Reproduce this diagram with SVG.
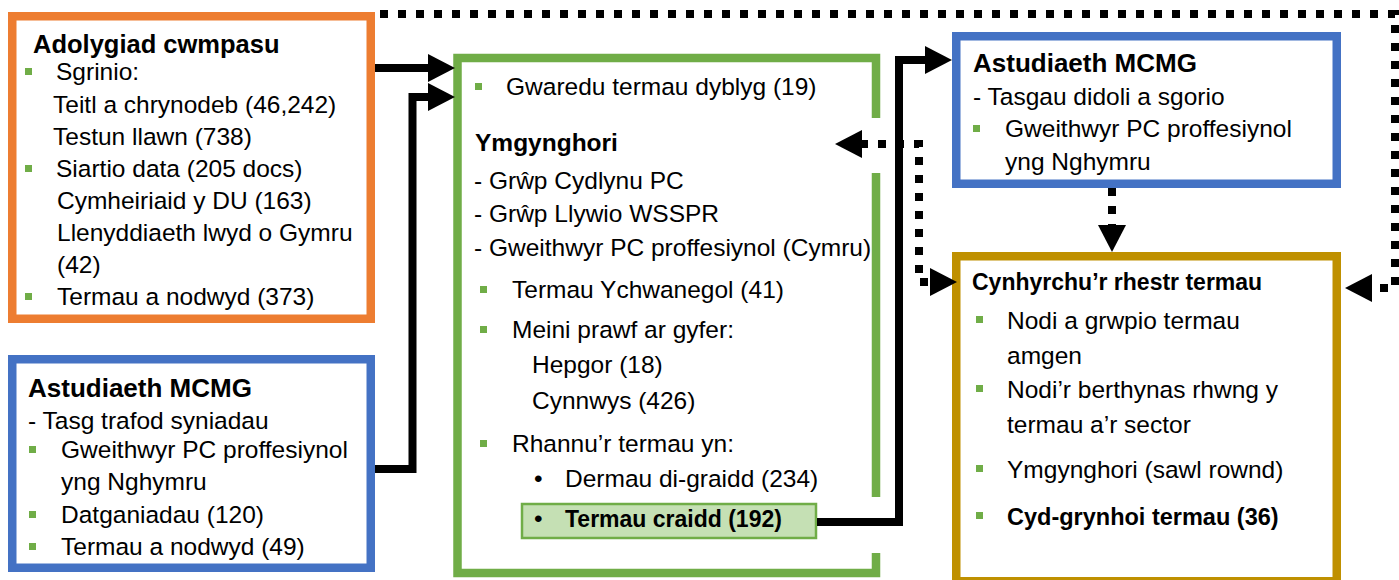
<svg xmlns="http://www.w3.org/2000/svg" width="1399" height="580" viewBox="0 0 1399 580">
<style>
.t{font-family:"Liberation Sans",Arial,sans-serif;font-size:24.5px;fill:#000}
.b{font-weight:bold}
.sq{fill:#70AD47}
.box{fill:#fff;stroke-width:8.5}
.conn{fill:none;stroke:#000;stroke-width:8;stroke-linejoin:miter}
.dot{stroke-dasharray:8 10}
</style>
<defs>
<marker id="ah" markerUnits="userSpaceOnUse" markerWidth="28" markerHeight="30" refX="2" refY="14" orient="auto-start-reverse" viewBox="0 0 28 30">
<path d="M0,0 L27,14 L0,28 Z" fill="#000"/>
</marker>
</defs>
<rect width="1399" height="580" fill="#fff"/>

<g id="node-adolygiad">
<rect class="box" x="12.25" y="16.25" width="358.5" height="302.5" stroke="#ED7D31"/>
<text class="t b" x="33" y="53" style="font-size:25.5px">Adolygiad cwmpasu</text>
<rect class="sq" x="25" y="68" width="7" height="7"/>
<text class="t" x="56" y="80">Sgrinio:</text>
<text class="t" x="53" y="113">Teitl a chrynodeb (46,242)</text>
<text class="t" x="53" y="145">Testun llawn (738)</text>
<rect class="sq" x="25" y="165" width="7" height="7"/>
<text class="t" x="56" y="177">Siartio data (205 docs)</text>
<text class="t" x="57" y="209">Cymheiriaid y DU (163)</text>
<text class="t" x="57" y="241">Llenyddiaeth lwyd o Gymru</text>
<text class="t" x="57" y="273">(42)</text>
<rect class="sq" x="25" y="293" width="7" height="7"/>
<text class="t" x="57" y="305">Termau a nodwyd (373)</text>
</g>

<g id="node-astudiaeth-1">
<rect class="box" x="12.25" y="359.25" width="358.5" height="208.5" stroke="#4472C4"/>
<text class="t b" x="28" y="397" style="font-size:26px">Astudiaeth MCMG</text>
<text class="t" x="28" y="429">- Tasg trafod syniadau</text>
<rect class="sq" x="29" y="446" width="7" height="7"/>
<text class="t" x="61" y="458">Gweithwyr PC proffesiynol</text>
<text class="t" x="61" y="490">yng Nghymru</text>
<rect class="sq" x="29" y="511" width="7" height="7"/>
<text class="t" x="61" y="523">Datganiadau (120)</text>
<rect class="sq" x="29" y="543" width="7" height="7"/>
<text class="t" x="61" y="555">Termau a nodwyd (49)</text>
</g>

<g id="node-ymgynghori">
<rect x="457.5" y="58" width="418.5" height="515" fill="#fff"/>
<path d="M876,118 V58 H457.5 V573 H876 V553 M876,173 V497" fill="none" stroke="#70AD47" stroke-width="8.5" stroke-linejoin="miter"/>
<rect class="sq" x="475" y="83" width="7" height="7"/>
<text class="t" x="506" y="95">Gwaredu termau dyblyg (19)</text>
<text class="t b" x="475" y="151" style="font-size:24.5px">Ymgynghori</text>
<text class="t" x="474" y="189">- Grŵp Cydlynu PC</text>
<text class="t" x="474" y="222">- Grŵp Llywio WSSPR</text>
<text class="t" x="474" y="256">- Gweithwyr PC proffesiynol (Cymru)</text>
<rect class="sq" x="480" y="286" width="7" height="7"/>
<text class="t" x="512" y="298">Termau Ychwanegol (41)</text>
<rect class="sq" x="480" y="326" width="7" height="7"/>
<text class="t" x="512" y="338">Meini prawf ar gyfer:</text>
<text class="t" x="532" y="373">Hepgor (18)</text>
<text class="t" x="532" y="409">Cynnwys (426)</text>
<rect class="sq" x="480" y="440" width="7" height="7"/>
<text class="t" x="512" y="452">Rhannu’r termau yn:</text>
<text class="t" x="534" y="487">•</text>
<text class="t" x="565" y="487">Dermau di-graidd (234)</text>
<rect x="522" y="504" width="294" height="34" fill="#C5E0B4" stroke="#70AD47" stroke-width="2.5"/>
<text class="t" x="534" y="527">•</text>
<text class="t b" x="565" y="527" style="font-size:23px">Termau craidd (192)</text>
</g>

<g id="node-astudiaeth-2">
<rect class="box" x="956.25" y="36.25" width="380.5" height="147.5" stroke="#4472C4"/>
<text class="t b" x="973" y="72" style="font-size:26px">Astudiaeth MCMG</text>
<text class="t" x="973" y="105">- Tasgau didoli a sgorio</text>
<rect class="sq" x="973" y="125" width="7" height="7"/>
<text class="t" x="1005" y="137">Gweithwyr PC proffesiynol</text>
<text class="t" x="1005" y="170">yng Nghymru</text>
</g>

<g id="node-cynhyrchu">
<rect class="box" x="956.25" y="256.25" width="380.5" height="325" stroke="#BF9000"/>
<text class="t b" x="972" y="290" style="font-size:23px">Cynhyrchu’r rhestr termau</text>
<rect class="sq" x="976" y="316" width="7" height="7"/>
<text class="t" x="1007" y="329">Nodi a grwpio termau</text>
<text class="t" x="1007" y="364">amgen</text>
<rect class="sq" x="976" y="385" width="7" height="7"/>
<text class="t" x="1007" y="398">Nodi’r berthynas rhwng y</text>
<text class="t" x="1007" y="433">termau a’r sector</text>
<rect class="sq" x="976" y="465" width="7" height="7"/>
<text class="t" x="1007" y="478">Ymgynghori (sawl rownd)</text>
<rect class="sq" x="976" y="512" width="7" height="7"/>
<text class="t b" x="1007" y="525" style="font-size:23.5px">Cyd-grynhoi termau (36)</text>
</g>

<g id="connectors">
<path class="conn" d="M375,68 H430" marker-end="url(#ah)"/>
<path class="conn" d="M375,469 H412.5 V97 H430" marker-end="url(#ah)"/>
<path class="conn" d="M817,522 H899 V60 H927" marker-end="url(#ah)"/>
<path class="conn dot" d="M1112,188 V227" marker-end="url(#ah)"/>
<path class="conn dot" d="M380,14 H1395 V288 H1370" marker-end="url(#ah)"/>
<path class="conn dot" d="M860,144 H919 V282 H932" marker-start="url(#ah)" marker-end="url(#ah)"/>
</g>
</svg>
